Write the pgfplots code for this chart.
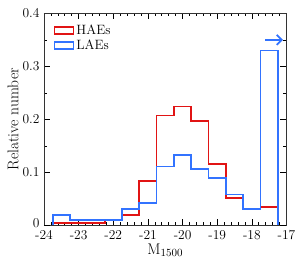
\documentclass[border=0pt]{standalone}
\usepackage{pgfplots}
\pgfplotsset{compat=1.18}
\usetikzlibrary{arrows.meta}
\definecolor{hred}{RGB}{225,20,20}
\definecolor{lblue}{RGB}{50,115,255}
\begin{document}
\begin{tikzpicture}
\begin{axis}[
  scale only axis,
  width=242.5pt, height=212pt,
  xmin=-24, xmax=-17, ymin=0, ymax=0.4,
  xtick={-24,-23,-22,-21,-20,-19,-18,-17},
  xticklabels={-24,-23,-22,-21,-20,-19,-18,-17},
  ytick={0.1,0.2,0.3,0.4},
  yticklabels={0.1,0.2,0.3,0.4},
  extra y ticks={0},
  extra y tick labels={0},
  extra y tick style={yticklabel style={yshift=2.5pt}},
  minor x tick num=4,
  minor y tick num=1,
  tick align=inside,
  major tick length=6pt,
  minor tick length=3pt,
  every tick/.style={black, line width=0.6pt},
  axis line style={line width=0.9pt, black!80},
  xticklabel style={font=\fontsize{13.5}{15}\selectfont, yshift=-1.5pt},
  yticklabel style={font=\fontsize{13.5}{15}\selectfont, xshift=-1pt},
  xlabel={\textrm{M}$_{1500}$},
  ylabel={Relative number},
  xlabel style={font=\fontsize{15.5}{18}\selectfont, yshift=3pt},
  ylabel style={font=\fontsize{15.5}{18}\selectfont, yshift=-3pt},
  legend style={at={(0.035,0.96)}, anchor=north west, draw=none, fill=none,
    font=\fontsize{13.5}{15}\selectfont, row sep=0pt, inner sep=1pt},
  legend cell align=left,
  legend image code/.code={\draw[#1, line width=1.8pt] (0pt,-3.5pt) rectangle (19pt,3.5pt);},
]
\addplot[hred, line width=1.8pt, const plot mark left] coordinates {
(-23.75,0) (-23.75,0.005) (-23.25,0.005) (-22.75,0.005) (-22.25,0.009)
(-21.75,0.020) (-21.25,0.084) (-20.75,0.207) (-20.25,0.224) (-19.75,0.197)
(-19.25,0.116) (-18.75,0.0515) (-18.25,0.030) (-17.75,0.035) (-17.25,0.035) (-17.25,0)};
\addlegendentry{HAEs}
\addplot[lblue, line width=1.8pt, const plot mark left] coordinates {
(-23.75,0) (-23.75,0.020) (-23.25,0.010) (-22.75,0.010) (-22.25,0.010)
(-21.75,0.031) (-21.25,0.042) (-20.75,0.111) (-20.25,0.133) (-19.75,0.106)
(-19.25,0.090) (-18.75,0.058) (-18.25,0.031) (-17.75,0.330) (-17.25,0.330) (-17.25,0)};
\addlegendentry{LAEs}
\addplot[lblue, line width=1.8pt, -{Straight Barb[length=5pt,width=10pt]}, forget plot] coordinates {(-17.62,0.35) (-17.1,0.35)};
\end{axis}
\pgfresetboundingbox
\path[use as bounding box] (current axis.south west) ++(-44pt,-37.7pt) rectangle ++(305pt,263pt);
\end{tikzpicture}
\end{document}
